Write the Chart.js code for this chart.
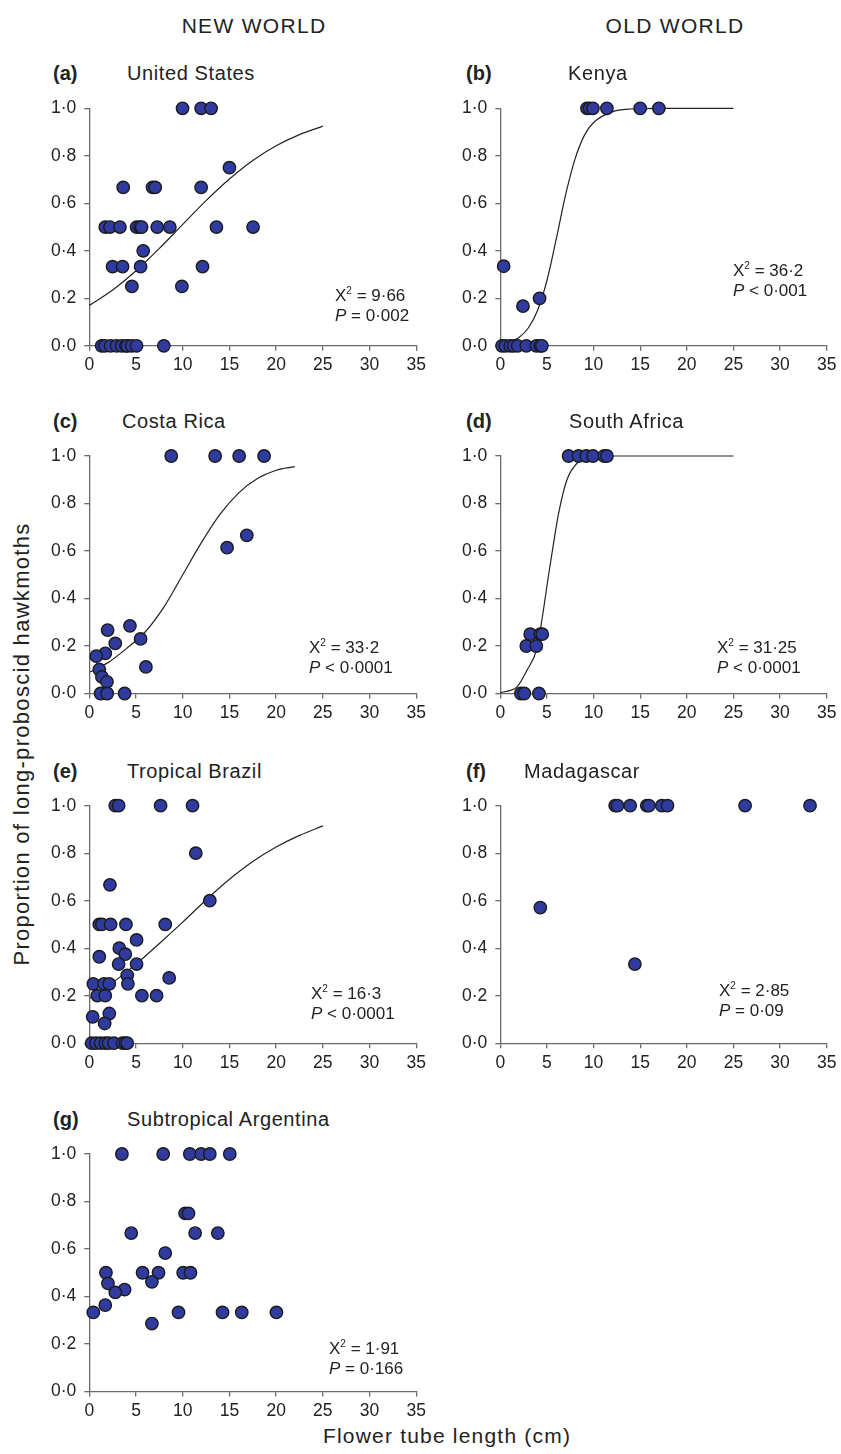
<!DOCTYPE html>
<html>
<head>
<meta charset="utf-8">
<script src="https://cdn.jsdelivr.net/npm/chart.js@4.4.0/dist/chart.umd.min.js"></script>
<style>
  body { margin: 0; background: #fff; }
  #fig { position: relative; width: 841px; height: 1454px; overflow: hidden;
         font-family: "Liberation Sans", Arial, sans-serif; color: #222; }
  #fig canvas { position: absolute; }
  .t { position: absolute; line-height: 1; white-space: nowrap; transform: translateY(-50%); }
  .hdr { font-size: 21px; letter-spacing: 1.3px; transform: translate(-50%, -50%); }
  .tag { font-size: 20px; font-weight: bold; }
  .name { font-size: 20px; letter-spacing: 0.6px; }
  .stat { font-size: 17px; }
  .stat sup { font-size: 10px; vertical-align: 7px; line-height: 0; }
  #ytitle { font-size: 22px; letter-spacing: 1.3px; transform: translate(-50%, -50%) rotate(-90deg); }
  #xtitle { font-size: 21px; letter-spacing: 1.2px; transform: translate(-50%, -50%); }
</style>
</head>
<body>
<div id="fig">
  <div class="t hdr" style="left:254px;top:25px">NEW WORLD</div>
  <div class="t hdr" style="left:675px;top:25px">OLD WORLD</div>
  <div class="t" id="ytitle" style="left:22px;top:744px">Proportion of long-proboscid hawkmoths</div>
  <div class="t" id="xtitle" style="left:447px;top:1435px">Flower tube length (cm)</div>
</div>

<script>
// (a) United States
const usX = [9.98, 11.97, 13.04, 15.0, 3.63, 6.77, 7.06, 11.97, 1.71, 2.21, 3.28, 5.06, 5.42, 5.6, 7.27, 8.62, 13.61, 17.53,
             5.77, 2.49, 3.56, 5.49, 12.12, 4.56, 9.91, 1.32, 1.67, 2.28, 2.92, 3.46, 3.92, 4.06, 4.53, 5.06, 7.98];
const usY = [1, 1, 1, 0.75, 0.667, 0.667, 0.667, 0.667, 0.5, 0.5, 0.5, 0.5, 0.5, 0.5, 0.5, 0.5, 0.5, 0.5,
             0.4, 0.333, 0.333, 0.333, 0.333, 0.25, 0.25, 0, 0, 0, 0, 0, 0, 0, 0, 0, 0];
const usFitX = [0, 2.5, 5, 7.5, 10, 12.5, 15, 17.5, 20, 22.5, 25];
const usFitY = [0.17, 0.235, 0.316, 0.41, 0.511, 0.611, 0.702, 0.78, 0.842, 0.889, 0.925];

// (b) Kenya
const keX = [9.29, 9.57, 9.93, 11.43, 15.0, 17.0, 0.36, 4.21, 2.43, 0.18, 0.54, 1.07, 1.43, 1.86, 2.79, 3.86, 4.29, 4.46];
const keY = [1, 1, 1, 1, 1, 1, 0.335, 0.2, 0.167, 0, 0, 0, 0, 0, 0, 0, 0, 0];
const keFitX = [0, 1, 2, 3, 4, 5, 6, 7, 8, 9, 10, 12, 14, 17, 20, 25];
const keFitY = [0.008, 0.017, 0.035, 0.075, 0.15, 0.275, 0.45, 0.635, 0.785, 0.885, 0.94, 0.985, 0.997, 1, 1, 1];

// (c) Costa Rica
const crX = [8.77, 13.47, 16.04, 18.71, 14.75, 16.86, 4.35, 1.96, 2.78, 5.49, 1.71, 0.75, 6.06, 1.07, 1.35, 1.89, 1.21, 1.92, 3.78];
const crY = [1, 1, 1, 1, 0.614, 0.666, 0.285, 0.267, 0.211, 0.23, 0.169, 0.157, 0.112, 0.101, 0.07, 0.049, 0, 0, 0];
const crFitX = [0.1, 2, 4, 6, 8, 10, 12, 14, 16, 18, 20, 22];
const crFitY = [0.091, 0.13, 0.19, 0.26, 0.365, 0.5, 0.635, 0.755, 0.845, 0.905, 0.94, 0.955];

// (d) South Africa
const saX = [7.32, 8.39, 9.21, 9.93, 11.14, 11.43, 3.21, 4.29, 4.5, 2.79, 3.86, 2.21, 2.57, 4.14];
const saY = [1, 1, 1, 1, 1, 1, 0.25, 0.25, 0.25, 0.2, 0.2, 0, 0, 0];
const saFitX = [0, 1, 1.8, 2.86, 3.93, 4.5, 5.18, 5.7, 6.25, 7.14, 8.39, 9.5, 11, 25];
const saFitY = [0.004, 0.012, 0.028, 0.098, 0.19, 0.32, 0.5, 0.63, 0.758, 0.899, 0.976, 0.993, 1, 1];

// (e) Tropical Brazil
const tbX = [2.78, 3.14, 7.63, 11.05, 11.4, 2.21, 12.9, 1.07, 1.35, 2.28, 3.92, 8.13, 5.06, 3.21, 1.07, 3.85, 3.14, 5.06,
             4.06, 8.55, 0.43, 1.57, 2.14, 4.13, 0.86, 1.71, 5.63, 7.2, 0.36, 2.14, 1.64,
             0.25, 0.71, 1.21, 1.71, 2.07, 2.64, 3.56, 3.85, 4.06];
const tbY = [1, 1, 1, 1, 0.8, 0.667, 0.6, 0.5, 0.5, 0.5, 0.5, 0.5, 0.435, 0.4, 0.364, 0.375, 0.333, 0.333,
             0.286, 0.275, 0.25, 0.25, 0.25, 0.25, 0.2, 0.2, 0.2, 0.2, 0.111, 0.125, 0.083,
             0, 0, 0, 0, 0, 0, 0, 0, 0];
const tbFitX = [0.1, 2.5, 5, 7.5, 10, 12.5, 15, 17.5, 20, 22.5, 25];
const tbFitY = [0.19, 0.255, 0.333, 0.42, 0.51, 0.603, 0.69, 0.765, 0.826, 0.875, 0.915];

// (f) Madagascar
const mgX = [12.32, 12.57, 13.93, 15.71, 15.93, 17.32, 17.93, 26.25, 33.21, 4.29, 14.43];
const mgY = [1, 1, 1, 1, 1, 1, 1, 1, 1, 0.571, 0.333];

// (g) Subtropical Argentina
const arX = [3.49, 7.91, 10.76, 11.97, 12.9, 15.04, 10.26, 10.62, 4.49, 11.33, 13.76, 8.13, 1.78, 5.7, 7.41, 10.05, 10.83,
             6.7, 2.0, 3.78, 2.78, 1.71, 0.43, 9.55, 14.26, 16.32, 20.03, 6.7];
const arY = [1, 1, 1, 1, 1, 1, 0.75, 0.75, 0.667, 0.667, 0.667, 0.583, 0.5, 0.5, 0.5, 0.5, 0.5,
             0.462, 0.455, 0.429, 0.417, 0.364, 0.333, 0.333, 0.333, 0.333, 0.333, 0.286];

const xTicksMax = 35;
const yTicksMax = 1;

// layout of the seven panels
const panels = [
  { tag: '(a)', name: 'United States', col: 0, top: 108.3, x: usX, y: usY, fx: usFitX, fy: usFitY,
    stat: ['9·66', '= 0·002'], sx: 335, sy: 295, nameX: 127 },
  { tag: '(b)', name: 'Kenya', col: 1, top: 108.3, x: keX, y: keY, fx: keFitX, fy: keFitY,
    stat: ['36·2', '< 0·001'], sx: 733, sy: 270, nameX: 568 },
  { tag: '(c)', name: 'Costa Rica', col: 0, top: 456, x: crX, y: crY, fx: crFitX, fy: crFitY,
    stat: ['33·2', '< 0·0001'], sx: 309, sy: 647, nameX: 122 },
  { tag: '(d)', name: 'South Africa', col: 1, top: 456, x: saX, y: saY, fx: saFitX, fy: saFitY,
    stat: ['31·25', '< 0·0001'], sx: 717, sy: 647, nameX: 569 },
  { tag: '(e)', name: 'Tropical Brazil', col: 0, top: 805.7, x: tbX, y: tbY, fx: tbFitX, fy: tbFitY,
    stat: ['16·3', '< 0·0001'], sx: 311, sy: 993, nameX: 127 },
  { tag: '(f)', name: 'Madagascar', col: 1, top: 805.7, x: mgX, y: mgY, fx: null, fy: null,
    stat: ['2·85', '= 0·09'], sx: 719, sy: 990, nameX: 524 },
  { tag: '(g)', name: 'Subtropical Argentina', col: 0, top: 1154, x: arX, y: arY, fx: null, fy: null,
    stat: ['1·91', '= 0·166'], sx: 329, sy: 1348, nameX: 127 },
];

Chart.defaults.font.family = '"Liberation Sans", Arial, sans-serif';
Chart.defaults.font.size = 17;
Chart.defaults.color = '#222';

const fig = document.getElementById('fig');
const plotH = 237.5;
const axisCol = '#6a6a6a';
const tickFont = { family: '"Liberation Sans", Arial, sans-serif', size: 17.5 };

function addText(cls, left, top, html) {
  const d = document.createElement('div');
  d.className = 't ' + cls;
  d.style.left = left + 'px';
  d.style.top = top + 'px';
  d.innerHTML = html;
  fig.appendChild(d);
}

panels.forEach((p, i) => {
  const canvasLeft = p.col === 0 ? 0 : 411;
  const canvasTop = Math.floor(p.top) - 20;
  const padTop = p.top - canvasTop;
  const W = 430, H = 292;
  const padRight = p.col === 0 ? 13.3 : 14.3;

  const cv = document.createElement('canvas');
  cv.width = W; cv.height = H;
  cv.style.left = canvasLeft + 'px';
  cv.style.top = canvasTop + 'px';
  cv.style.width = W + 'px';
  cv.style.height = H + 'px';
  fig.appendChild(cv);

  const pts = p.x.map((v, k) => ({ x: v, y: p.y[k] }));
  const datasets = [{
    type: 'scatter',
    data: pts,
    pointRadius: 6.2,
    pointBackgroundColor: '#2f3b9e',
    pointBorderColor: '#1b1b1b',
    pointBorderWidth: 1.4,
    clip: false,
    order: 1,
  }];
  if (p.fx) {
    datasets.push({
      type: 'line',
      data: p.fx.map((v, k) => ({ x: v, y: p.fy[k] })),
      borderColor: '#222',
      borderWidth: 1.2,
      pointRadius: 0,
      cubicInterpolationMode: 'monotone',
      fill: false,
      clip: false,
      order: 2,
    });
  }

  new Chart(cv, {
    type: 'scatter',
    data: { datasets },
    options: {
      responsive: false,
      animation: false,
      events: [],
      layout: { padding: { top: padTop, right: padRight, bottom: 0, left: 0 } },
      plugins: { legend: { display: false }, tooltip: { enabled: false } },
      scales: {
        x: {
          type: 'linear', min: 0, max: xTicksMax,
          ticks: { stepSize: 5, padding: 4, maxRotation: 0, autoSkip: false, color: '#222', font: tickFont },
          grid: { drawOnChartArea: false, tickLength: 5, color: axisCol, lineWidth: 1.3 },
          border: { color: axisCol, width: 1.3 },
          afterFit: s => { s.height = H - padTop - plotH; },
        },
        y: {
          min: 0, max: yTicksMax,
          ticks: { stepSize: 0.2, padding: 8, color: '#222', font: tickFont,
                   callback: v => v.toFixed(1).replace('.', '·') },
          grid: { drawOnChartArea: false, tickLength: 5, color: axisCol, lineWidth: 1.3 },
          border: { color: axisCol, width: 1.3 },
          afterFit: s => { s.width = 89.3; },
        },
      },
    },
  });

  const labelY = p.top - 35;
  addText('tag', p.col === 0 ? 53 : 466, labelY, p.tag);
  addText('name', p.nameX, labelY, p.name);
  addText('stat', p.sx, p.sy, 'X<sup>2</sup> = ' + p.stat[0]);
  addText('stat', p.sx, p.sy + 20, '<i>P</i> ' + p.stat[1]);
});
</script>
</body>
</html>
